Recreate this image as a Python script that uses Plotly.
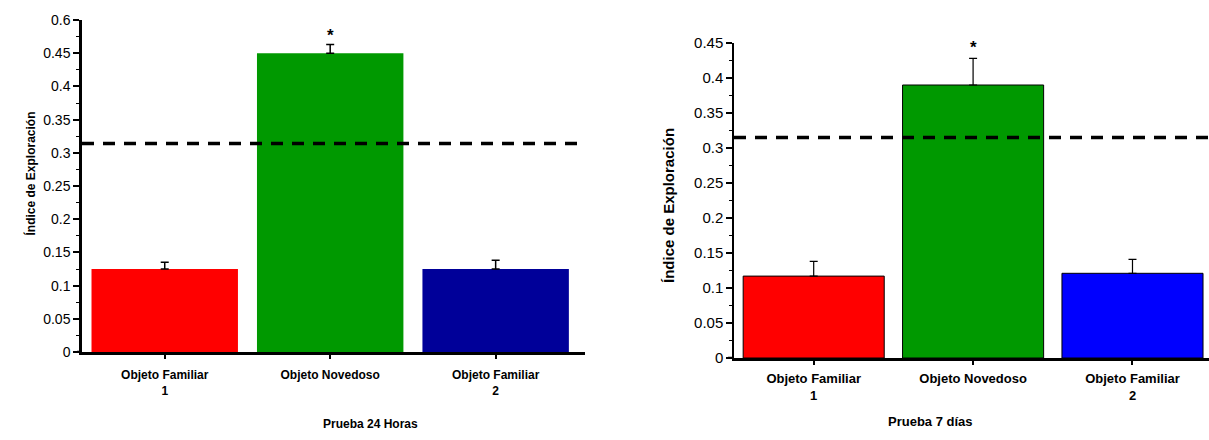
import plotly.graph_objects as go

# Exploration index per object, two test sessions
categories = ["Objeto Familiar<br>1", "Objeto Novedoso", "Objeto Familiar<br>2"]
values_24h = [0.125, 0.450, 0.125]
errors_24h = [0.010, 0.013, 0.013]
values_7d = [0.117, 0.390, 0.121]
errors_7d = [0.021, 0.038, 0.020]
chance_24h = 0.314
chance_7d = 0.315

colors_24h = ["#ff0000", "#009900", "#000099"]
colors_7d = ["#ff0000", "#009900", "#0000ff"]

yticks_24h = [0, 0.05, 0.1, 0.15, 0.2, 0.25, 0.3, 0.35, 0.4, 0.45, 0.5]
yticktext_24h = ["0", "0.05", "0.1", "0.15", "0.2", "0.25", "0.3", "0.35", "0.4", "0.45", "0.6"]
yticks_7d = [0, 0.05, 0.1, 0.15, 0.2, 0.25, 0.3, 0.35, 0.4, 0.45]
yticktext_7d = ["0", "0.05", "0.1", "0.15", "0.2", "0.25", "0.3", "0.35", "0.4", "0.45"]

FONT = "Arial, 'Liberation Sans', sans-serif"
W, H = 1209, 440
xpos = list(range(len(categories)))

fig = go.Figure()

fig.add_trace(go.Bar(
    x=xpos, y=values_24h, width=0.885,
    marker=dict(color=colors_24h, line=dict(width=0)),
    error_y=dict(type="data", array=errors_24h, arrayminus=[0] * 3,
                 symmetric=False, color="black", thickness=1.5, width=4),
    xaxis="x", yaxis="y", showlegend=False,
))
fig.add_trace(go.Bar(
    x=xpos, y=values_7d, width=0.885,
    marker=dict(color=colors_7d, line=dict(width=1, color="black")),
    error_y=dict(type="data", array=errors_7d, arrayminus=[0] * 3,
                 symmetric=False, color="black", thickness=1.2, width=4),
    xaxis="x2", yaxis="y2", showlegend=False,
))

def px_x(p):
    return p / W

def px_y(p):
    return 1 - p / H

common_x = dict(
    showline=True, linecolor="black", linewidth=2.5,
    ticks="outside", ticklen=4, tickcolor="black", tickwidth=1.5,
    showgrid=False, zeroline=False, fixedrange=True, automargin=False,
    tickvals=xpos, ticktext=["<b>%s</b>" % c for c in categories],
)
common_y = dict(
    showline=True, linecolor="black",
    ticks="outside", ticklen=6, tickcolor="black", tickwidth=1.5,
    showgrid=False, zeroline=False, fixedrange=True, automargin=False,
    minor=dict(dtick=0.025, ticks="outside", ticklen=3, tickcolor="black", tickwidth=1),
)

fig.update_layout(
    width=W, height=H,
    margin=dict(l=0, r=0, t=0, b=0, autoexpand=False),
    paper_bgcolor="white", plot_bgcolor="white",
    font=dict(family=FONT, color="black"),
    xaxis=dict(common_x, domain=[px_x(82), px_x(585)], range=[-0.5, 2.54],
               anchor="y", tickfont=dict(size=12), ticklabelstandoff=6),
    yaxis=dict(common_y, domain=[px_y(352), px_y(20)], range=[0, 0.5],
               anchor="x", linewidth=2.5, tickvals=yticks_24h, ticktext=yticktext_24h,
               tickfont=dict(size=14)),
    xaxis2=dict(common_x, domain=[px_x(734), 1.0], range=[-0.5, 2.48],
                anchor="y2", tickfont=dict(size=13), ticklabelstandoff=3),
    yaxis2=dict(common_y, domain=[px_y(358), px_y(43)], range=[0, 0.45],
                anchor="x2", linewidth=1.5, tickvals=yticks_7d, ticktext=yticktext_7d,
                tickfont=dict(size=15)),
)

# baseline stubs reaching slightly left of each y axis
fig.add_shape(type="line", xref="x domain", yref="y", x0=-5 / 503, x1=0, y0=0, y1=0,
              line=dict(color="black", width=2.5))
fig.add_shape(type="line", xref="x2 domain", yref="y2", x0=-6 / 475, x1=0, y0=0, y1=0,
              line=dict(color="black", width=2.5))

# chance-level reference lines
fig.add_shape(type="line", xref="x domain", yref="y", x0=0, x1=1,
              y0=chance_24h, y1=chance_24h,
              line=dict(color="black", width=3.5, dash="12px,9px"))
fig.add_shape(type="line", xref="x2 domain", yref="y2", x0=0, x1=1,
              y0=chance_7d, y1=chance_7d,
              line=dict(color="black", width=3.5, dash="12px,9px"))

# significance markers above the novel object
fig.add_annotation(x=1, y=values_24h[1] + errors_24h[1], xref="x", yref="y",
                   text="<b>*</b>", showarrow=False, yanchor="bottom", yshift=-2,
                   font=dict(size=17, family=FONT))
fig.add_annotation(x=1, y=values_7d[1] + errors_7d[1], xref="x2", yref="y2",
                   text="<b>*</b>", showarrow=False, yanchor="bottom", yshift=-1,
                   font=dict(size=17, family=FONT))

# axis titles
fig.add_annotation(x=px_x(20), y=px_y(174), xref="paper", yref="paper",
                   text="<b>Índice de Exploración</b>", textangle=-90, showarrow=False,
                   font=dict(size=12, family=FONT))
fig.add_annotation(x=px_x(668), y=px_y(206), xref="paper", yref="paper",
                   text="<b>Índice de Exploración</b>", textangle=-90, showarrow=False,
                   font=dict(size=15, family=FONT))
fig.add_annotation(x=px_x(321), y=px_y(433), xref="paper", yref="paper",
                   text="<b>Prueba 24 Horas</b>", showarrow=False,
                   font=dict(size=12, family=FONT))
fig.add_annotation(x=px_x(975), y=px_y(431), xref="paper", yref="paper",
                   text="<b>Prueba 7 días</b>", showarrow=False,
                   font=dict(size=13, family=FONT))

fig.write_html("out.html")
